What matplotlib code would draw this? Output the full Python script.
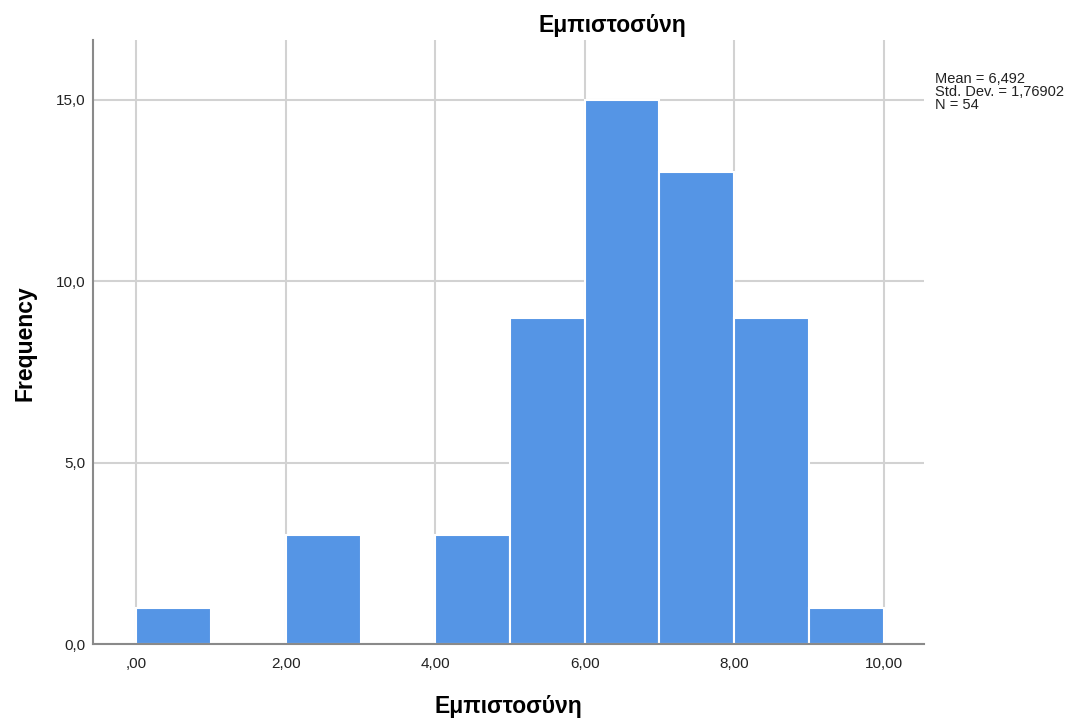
import matplotlib
matplotlib.use("Agg")
import matplotlib.pyplot as plt

plt.rcParams['font.family'] = ['Liberation Sans', 'DejaVu Sans']

# Histogram bins (lower edges, width 1) and counts
bin_edges = [0, 1, 2, 3, 4, 5, 6, 7, 8, 9, 10]
counts = [1, 0, 3, 0, 3, 9, 15, 13, 9, 1]
x_ticks = [0, 2, 4, 6, 8, 10]
x_tick_labels = [",00", "2,00", "4,00", "6,00", "8,00", "10,00"]
y_ticks = [0, 5, 10, 15]
y_tick_labels = ["0,0", "5,0", "10,0", "15,0"]
stats_text = "Mean = 6,492\nStd. Dev. = 1,76902\nN = 54"
title = "Εμπιστοσύνη"
y_label = "Frequency"

W, H = 1078, 718
fig = plt.figure(figsize=(W / 100, H / 100), dpi=100)
ax = fig.add_axes([93 / W, 74 / H, (924 - 93) / W, (644 - 40) / H])

ax.bar(bin_edges[:-1], counts, width=1, align='edge', color='#5595e5',
       edgecolor='white', linewidth=1.5, zorder=3)

ax.set_xlim(-0.58, 10.54)
ax.set_ylim(0, 16.65)
ax.set_xticks(x_ticks)
ax.set_xticklabels(x_tick_labels)
ax.set_yticks(y_ticks)
ax.set_yticklabels(y_tick_labels)
ax.tick_params(length=0, labelsize=11, colors='#222222')
ax.tick_params(axis='x', pad=9)
ax.tick_params(axis='y', pad=5.5)

ax.grid(True, color='#d2d2d2', linewidth=1.5, zorder=0)
for s in ['top', 'right']:
    ax.spines[s].set_visible(False)
for s in ['left', 'bottom']:
    ax.spines[s].set_color('#8a8a8a')
    ax.spines[s].set_linewidth(1.5)
    ax.spines[s].set_zorder(4)

# Titles and axis labels placed in figure pixel coordinates
fig.text(612 / W, 1 - 32 / H, title, fontsize=16.5, fontweight='bold',
         ha='center', va='baseline')
fig.text(508 / W, 1 - 713 / H, title, fontsize=16.5, fontweight='bold',
         ha='center', va='baseline')
fig.text(25 / W, 1 - 343 / H, y_label, fontsize=16.5, fontweight='bold',
         rotation=90, ha='center', va='center')
fig.text(935 / W, 1 - 72 / H, stats_text, fontsize=10.5, ha='left',
         va='top', linespacing=0.92, color='#222222')

fig.savefig("out.png", dpi=100)
